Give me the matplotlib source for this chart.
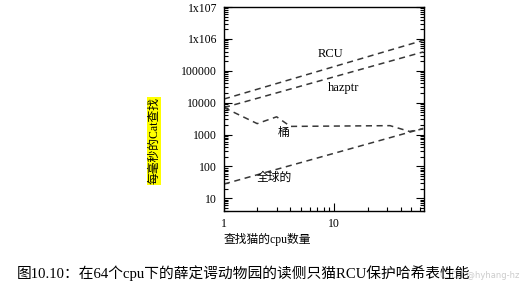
import numpy as np
import matplotlib
matplotlib.use('Agg')
import matplotlib.pyplot as plt
from matplotlib.ticker import FixedLocator, LogLocator, NullFormatter

# data (log-log)
x_rcu = [1, 64]
y_rcu = [13000, 900000]
x_hazptr = [1, 64]
y_hazptr = [7000, 390000]
x_bucket = [1, 2, 3, 4, 32, 48, 64]
y_bucket = [7000, 2200, 3600, 1800, 1900, 1250, 1500]
x_global = [1, 64]
y_global = [28, 1560]

yticks = [10, 100, 1000, 10000, 100000, 1e6, 1e7]
ytick_labels = ['10', '100', '1000', '10000', '100000', '1x106', '1x107']
xticks = [1, 10]
xtick_labels = ['1', '10']

cjk = ['Liberation Serif', 'Noto Sans CJK SC', 'DejaVu Sans']
serif = 'Liberation Serif'

fig = plt.figure(figsize=(5.25, 2.9), dpi=100)
ax = fig.add_axes([224/525, 1-211/290, 200/525, 204/290])

ls = dict(color='#383838', linestyle=(0, (4, 3)), linewidth=1.1)
ax.plot(x_rcu, y_rcu, **ls)
ax.plot(x_hazptr, y_hazptr, **ls)
ax.plot(x_bucket, y_bucket, **ls)
ax.plot(x_global, y_global, **ls)

ax.set_xscale('log')
ax.set_yscale('log')
ax.set_xlim(1, 65)
ax.set_ylim(4, 1e7)

ax.yaxis.set_major_locator(FixedLocator(yticks))
ax.set_yticklabels(ytick_labels, family=serif, fontsize=8.5)
ax.yaxis.set_minor_locator(LogLocator(base=10, subs=np.arange(2, 10)))
ax.yaxis.set_minor_formatter(NullFormatter())
ax.xaxis.set_major_locator(FixedLocator(xticks))
ax.set_xticklabels(xtick_labels, family=serif, fontsize=8.5)
ax.xaxis.set_minor_locator(LogLocator(base=10, subs=np.arange(2, 10)))
ax.xaxis.set_minor_formatter(NullFormatter())

ax.tick_params(which='both', direction='in', left=True, right=True, bottom=True, top=False, width=0.8)
ax.tick_params(which='major', length=6, pad=5)
ax.tick_params(which='minor', length=3)
for s in ax.spines.values():
    s.set_linewidth(1.0)

# series labels
ax.text(9.2, 340000, 'RCU', family=serif, fontsize=9, ha='center', va='center')
ax.text(12.1, 29000, 'hazptr', family=serif, fontsize=9, ha='center', va='center')
ax.text(3.45, 1120, '桶', family=cjk, fontsize=8.5, ha='center', va='center')
ax.text(2.85, 44, '全球的', family=cjk, fontsize=8.5, ha='center', va='center')

fig.text(154/525, 1-141/290, '每毫秒的Cat查找', family=cjk, fontsize=8.5, rotation=90,
         ha='center', va='center', bbox=dict(facecolor='yellow', edgecolor='none', pad=0.5))
fig.text(224/525, 1-240/290, '查找猫的cpu数量', family=cjk, fontsize=8.5, ha='left', va='center')
fig.text(17/525, 1-273/290, '图10.10：在64个cpu下的薛定谔动物园的读侧只猫RCU保护哈希表性能',
         family=cjk, fontsize=10.6, ha='left', va='center')
fig.text(519/525, 1-275/290, 'CSDN @hyhang-hz', family='DejaVu Sans', fontsize=6,
         color='#cccccc', ha='right', va='center', zorder=0)

fig.savefig('out.png', dpi=100)
